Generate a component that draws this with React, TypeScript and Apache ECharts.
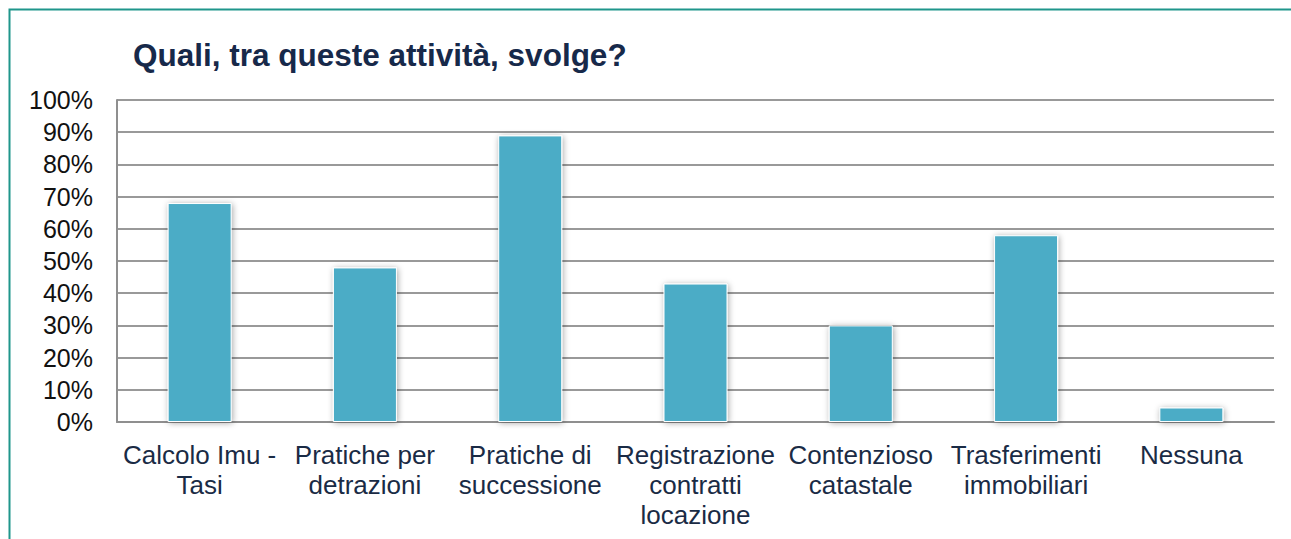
import React, { useEffect, useRef } from "react";
import * as echarts from "echarts";

const titleText = "Quali, tra queste attività, svolge?";
const categories = [
  "Calcolo Imu -\nTasi",
  "Pratiche per\ndetrazioni",
  "Pratiche di\nsuccessione",
  "Registrazione\ncontratti\nlocazione",
  "Contenzioso\ncatastale",
  "Trasferimenti\nimmobiliari",
  "Nessuna",
];
const values = [68, 48, 89, 43, 30, 58, 4.5];
const yMin = 0;
const yMax = 100;
const yInterval = 10;

const FONT = "'Liberation Sans', Arial, sans-serif";

export default function App() {
  const ref = useRef<HTMLDivElement>(null);
  useEffect(() => {
    if (!ref.current) return;
    const chart = echarts.init(ref.current, null, { renderer: "svg" });
    chart.setOption({
      animation: false,
      backgroundColor: "#ffffff",
      textStyle: { fontFamily: FONT },
      title: {
        text: titleText,
        left: 128,
        top: 34,
        textStyle: {
          fontFamily: FONT,
          fontSize: 31.5,
          fontWeight: "bold",
          color: "#17294a",
        },
      },
      graphic: [
        {
          type: "rect",
          shape: { x: 9.5, y: 9.5, width: 1320, height: 600 },
          style: { fill: "none", stroke: "#1f968b", lineWidth: 2 },
          silent: true,
        },
      ],
      grid: { left: 117, top: 100, right: 17, bottom: 117, containLabel: false },
      xAxis: {
        type: "category",
        data: categories,
        axisLine: { show: true, lineStyle: { color: "#8f8f8f", width: 2 } },
        axisTick: { show: false },
        axisLabel: {
          interval: 0,
          margin: 18,
          fontFamily: FONT,
          fontSize: 26,
          lineHeight: 30,
          color: "#1a2b45",
          align: "center",
        },
      },
      yAxis: {
        type: "value",
        min: yMin,
        max: yMax,
        interval: yInterval,
        axisLine: { show: true, lineStyle: { color: "#8f8f8f", width: 2 } },
        axisTick: { show: false },
        axisLabel: {
          formatter: "{value}%",
          margin: 24,
          fontFamily: FONT,
          fontSize: 25,
          color: "#111111",
        },
        splitLine: { show: true, lineStyle: { color: "#999999", width: 2 } },
      },
      series: [
        {
          type: "bar",
          data: values,
          barWidth: 64,
          itemStyle: {
            color: "#4bacc6",
            borderColor: "#ffffff",
            borderWidth: 1,
            shadowBlur: 6,
            shadowColor: "rgba(0,0,0,0.35)",
            shadowOffsetX: 1,
            shadowOffsetY: 1,
          },
        },
      ],
    });
    return () => chart.dispose();
  }, []);
  return (
    <div
      ref={ref}
      style={{ position: "absolute", left: 0, top: 0, width: 1291, height: 539 }}
    />
  );
}
